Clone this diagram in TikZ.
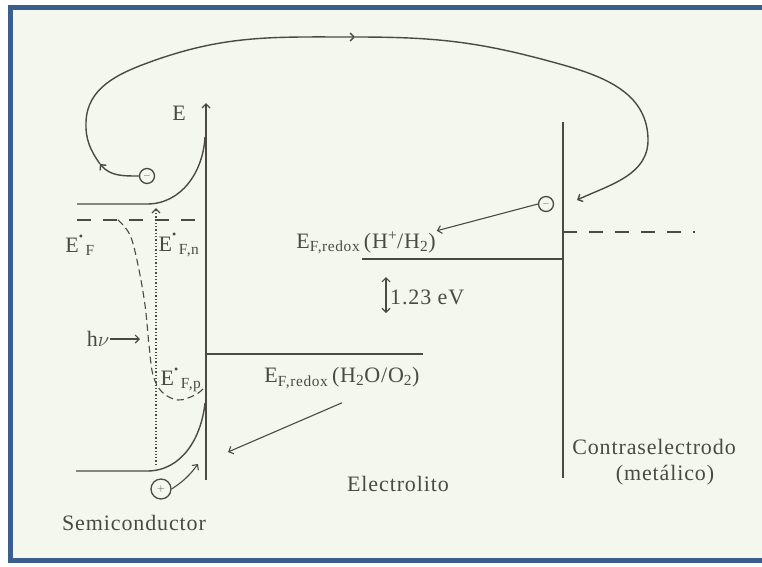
\documentclass[tikz,border=0pt]{standalone}
\usepackage{fontspec}
\setmainfont{Liberation Serif}[LetterSpace=4]
\usepackage{tikz}
\usetikzlibrary{positioning, calc, arrows.meta}

\definecolor{ink}{HTML}{4A4A40}
\definecolor{paper}{HTML}{F4F7EE}
\definecolor{frame}{HTML}{3B5E8C}

\tikzset{
    wire/.style={ink, line width=1.4pt},
    thinwire/.style={ink, line width=1.1pt},
    lbl/.style={text=ink, inner sep=1pt, font=\fontsize{22}{24}\selectfont},
    charge/.style={circle, draw=ink, line width=1.3pt, inner sep=0pt, minimum size=15pt, text=ink, font=\bfseries},
    dash26/.style={dash pattern=on 14pt off 12pt}
}

\newcommand{\quasidot}{\raisebox{1.2ex}{\scalebox{0.55}{\textbullet}}}

\begin{document}
\begin{tikzpicture}[x=1pt, y=-1pt, >={Straight Barb[length=4pt, width=8pt]}]
    \useasboundingbox (0,0) rectangle (762,566);

    % Frame
    \fill[white] (0,0) rectangle (762,566);
    \fill[paper] (13,10) rectangle (762,558);
    \draw[frame, line width=5pt] (10.5,7.5) rectangle (775,560.5);

    % Energy axis of the semiconductor
    \coordinate (axB) at (206,480);
    \coordinate (axT) at (206,103);
    \draw[wire, ->] (axB) -- (axT);
    \node[lbl] (E) at (179,113) {E};

    % Bands (bent near the surface)
    \draw[wire] (77,204) -- (147,204) to[out=0, in=-93] (205,137);
    \draw[wire] (76,471) -- (147,471) to[out=0, in=-96] (205,403);

    % Fermi level and quasi Fermi levels
    \draw[wire, dash26] (77,220) -- (206,220);
    \draw[thinwire, dash pattern=on 7pt off 4pt] plot[smooth, tension=0.6] coordinates
        {(118,220) (130,235) (138,265) (145,305) (149,345) (153,375) (162,392) (178,400) (195,395) (204,388)};
    \node[lbl] (EF)  at (80,245)  {E\quasidot\textsubscript{\,F}};
    \node[lbl] (EFn) at (179,245) {E\quasidot\textsubscript{\,F,n}};
    \node[lbl] (EFp) at (181,380) {E\quasidot\textsubscript{\,F,p}};

    % Photo-excitation
    \coordinate (vb) at (156,465);
    \coordinate (cb) at (156,208);
    \draw[thinwire, line width=1.3pt, dotted, ->] (vb) -- (cb);
    \node[lbl] (hv) at (98,339) {h$\nu$};
    \coordinate (hvTip) at (140,339);
    \draw[thinwire, ->] (hv.east) -- (hvTip);

    % Charges
    \node[charge] (eS) at (147,176) {$-$};
    \node[charge, minimum size=20pt] (hS) at (161,489) {$+$};
    \node[charge] (eM) at (546,204) {$-$};
    \coordinate (hTip) at (198,464);
    \draw[thinwire, ->] (hS.east) to[bend right=10] (hTip);

    % Outer circuit
    \coordinate (a1) at (100,164);
    \coordinate (top) at (355,37);
    \coordinate (mTip) at (577,200);
    \draw[wire, ->] (eS.west) to[out=180, in=-50] (a1);
    \draw[wire, ->] (a1) to[out=125, in=-92] (86,122) to[out=88, in=200] (150,62) to[out=20, in=180] (top);
    \draw[wire, ->] (top) to[out=0, in=165] (545,60) to[out=-15, in=92] (648,138) to[out=-88, in=25] (mTip);

    % Counter electrode
    \draw[wire] (563,122) -- (563,478);
    \draw[wire, dash26] (563,232) -- (695,232);
    \node[lbl] (ctr) at (654,447) {Contraselectrodo};
    \node[lbl] (met) at (665,475) {(metálico)};

    % Redox levels
    \draw[wire] (362,259) -- (563,259);
    \draw[wire] (206,354) -- (423,354);
    \node[lbl] (Hlab) at (366,243) {E\textsubscript{F,redox}\,(H\textsuperscript{+}/H\textsubscript{2})};
    \node[lbl] (Olab) at (342,378) {E\textsubscript{F,redox}\,(H\textsubscript{2}O/O\textsubscript{2})};
    \draw[thinwire, ->] (eM.west) -- (Hlab.north east);
    \coordinate (oTip) at (228,452);
    \draw[thinwire, ->] ([yshift=-13pt]Olab.south) -- (oTip);

    % 1.23 eV gap
    \coordinate (gT) at (386,277);
    \coordinate (gB) at (386,313);
    \draw[thinwire, <->] (gB) -- (gT);
    \node[lbl, right=3pt of gT, yshift=-20pt] (gap) {1.23 eV};

    % Regions
    \node[lbl] (elec) at (398,484) {Electrolito};
    \node[lbl] (semi) at (134,523) {Semiconductor};
\end{tikzpicture}
\end{document}
